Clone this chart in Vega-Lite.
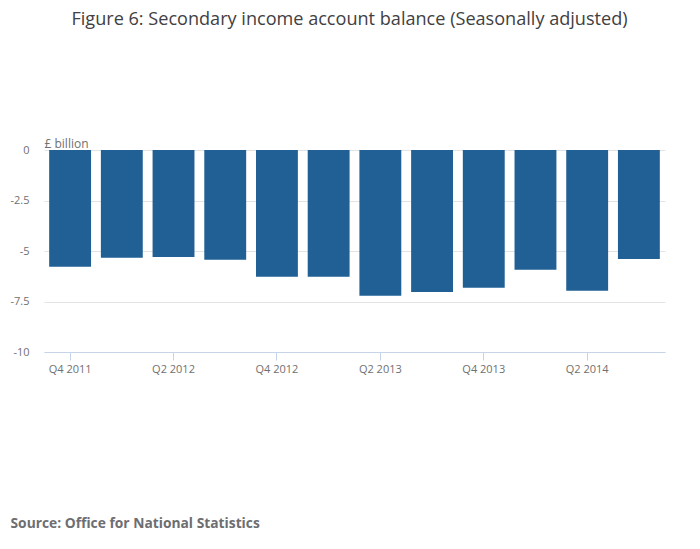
{
  "$schema": "https://vega.github.io/schema/vega-lite/v6.json",
  "autosize": "none",
  "width": 621,
  "height": 202,
  "padding": {"left": 44, "top": 150, "right": 35, "bottom": 197},
  "background": "white",
  "title": {
    "text": "Figure 6: Secondary income account balance (Seasonally adjusted)",
    "font": "Open Sans",
    "fontSize": 18.1,
    "fontWeight": "normal",
    "color": "#414042",
    "anchor": "middle",
    "dx": -5,
    "offset": 108
  },
  "data": {
    "values": [
      {"quarter": "Q4 2011", "balance": -5.78},
      {"quarter": "Q1 2012", "balance": -5.33},
      {"quarter": "Q2 2012", "balance": -5.30},
      {"quarter": "Q3 2012", "balance": -5.43},
      {"quarter": "Q4 2012", "balance": -6.27},
      {"quarter": "Q1 2013", "balance": -6.27},
      {"quarter": "Q2 2013", "balance": -7.22},
      {"quarter": "Q3 2013", "balance": -7.03},
      {"quarter": "Q4 2013", "balance": -6.82},
      {"quarter": "Q1 2014", "balance": -5.93},
      {"quarter": "Q2 2014", "balance": -6.97},
      {"quarter": "Q3 2014", "balance": -5.39}
    ]
  },
  "mark": {"type": "bar", "color": "#206095"},
  "encoding": {
    "x": {
      "field": "quarter",
      "type": "ordinal",
      "sort": null,
      "scale": {"paddingInner": 0.19, "paddingOuter": 0.1},
      "axis": {
        "values": ["Q4 2011", "Q2 2012", "Q4 2012", "Q2 2013", "Q4 2013", "Q2 2014"],
        "labelAngle": 0,
        "labelFont": "Open Sans",
        "labelFontSize": 11,
        "labelColor": "#707070",
        "labelPadding": 3,
        "domainColor": "#c6d4e8",
        "tickColor": "#c6d4e8",
        "tickSize": 8,
        "title": "Source: Office for National Statistics",
        "titleFont": "Open Sans",
        "titleFontSize": 13.8,
        "titleFontWeight": "bold",
        "titleColor": "#6d6e71",
        "titleAnchor": "start",
        "titleAlign": "left",
        "titleBaseline": "alphabetic",
        "titleX": -34,
        "titleY": 175
      }
    },
    "y": {
      "field": "balance",
      "type": "quantitative",
      "scale": {"domain": [-10, 0], "nice": false},
      "axis": {
        "values": [0, -2.5, -5, -7.5, -10],
        "labelExpr": "datum.value + ''",
        "domain": false,
        "ticks": false,
        "labelFont": "Open Sans",
        "labelFontSize": 11,
        "labelColor": "#707070",
        "labelPadding": 15,
        "gridColor": "#e3e3e3",
        "title": "£ billion",
        "titleFont": "Open Sans",
        "titleFontSize": 12,
        "titleFontWeight": "normal",
        "titleColor": "#707070",
        "titleAngle": 0,
        "titleAlign": "left",
        "titleBaseline": "alphabetic",
        "titleX": 0,
        "titleY": -3
      }
    }
  },
  "config": {"view": {"stroke": null}}
}
